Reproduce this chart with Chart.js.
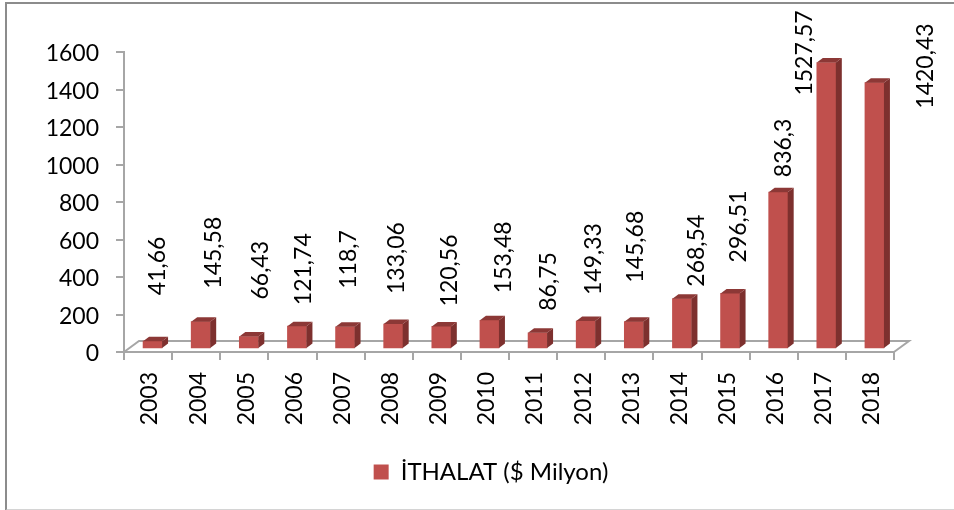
<!DOCTYPE html>
<html>
<head>
<meta charset="utf-8">
<script src="https://cdn.jsdelivr.net/npm/chart.js@4"></script>
<style>
  html, body { margin: 0; padding: 0; background: #fff; overflow: hidden; }
  #frame { position: absolute; left: 5px; top: 2px; width: 960px; height: 505px;
           border-left: 2px solid #8c8c8c; border-top: 2px solid #8c8c8c; border-bottom: 2px solid #d4d4d4; }
  #chart { position: absolute; left: 0; top: 0; }
</style>
</head>
<body>
<div id="frame"></div>
<canvas id="chart" width="954" height="510"></canvas>
<script>
const years = ['2003','2004','2005','2006','2007','2008','2009','2010','2011','2012','2013','2014','2015','2016','2017','2018'];
const ithalat = [41.66,145.58,66.43,121.74,118.7,133.06,120.56,153.48,86.75,149.33,145.68,268.54,296.51,836.3,1527.57,1420.43];

// hand-placed value labels, px away from each bar
const labelDx = [10,17,16,11,8,8,13,19,16,12,6,19,13,10,-17,56];
const labelDy = [-49,-36,-40,-24,-41,-33,-23,-30,-25,-29,-42,-15,-34,-18,30,23];

const FONT = 'Lato';
const TEXT_SIZE = 23;
const AXIS = '#a6a6a6';
const FRONT = '#c0504d';
const SIDE = '#7d302e';
const TOP = '#8c3836';
const DEPTH_X = 6, DEPTH_Y = 4.5;   // fake 3d depth of the bars
const SHIFT_X = 4.5, SHIFT_Y = -3;  // bars stand a bit into the floor

const fake3d = {
  id: 'fake3d',
  beforeDraw(chart) {
    // legend sits centred under the plot, not under the whole canvas
    chart.legend.left = 88;
    chart.legend.right = 894;
  },
  beforeDatasetsDraw(chart) {
    const { ctx, chartArea: a } = chart;
    // floor
    ctx.save();
    ctx.strokeStyle = AXIS;
    ctx.lineWidth = 2;
    ctx.beginPath();
    ctx.moveTo(a.left, a.bottom);
    ctx.lineTo(a.left + 15, a.bottom - 11);
    ctx.lineTo(a.right + 15, a.bottom - 11);
    ctx.lineTo(a.right, a.bottom);
    ctx.stroke();
    ctx.restore();
  },
  beforeDatasetDraw(chart) {
    chart.ctx.save();
    chart.ctx.translate(SHIFT_X, SHIFT_Y);
  },
  afterDatasetDraw(chart) {
    const { ctx } = chart;
    chart.getDatasetMeta(0).data.forEach(bar => {
      const l = bar.x - bar.width / 2, r = bar.x + bar.width / 2;
      ctx.fillStyle = SIDE;
      ctx.beginPath();
      ctx.moveTo(r, bar.y);
      ctx.lineTo(r + DEPTH_X, bar.y - DEPTH_Y);
      ctx.lineTo(r + DEPTH_X, bar.base - DEPTH_Y);
      ctx.lineTo(r, bar.base);
      ctx.closePath();
      ctx.fill();
      ctx.fillStyle = TOP;
      ctx.beginPath();
      ctx.moveTo(l, bar.y);
      ctx.lineTo(l + DEPTH_X, bar.y - DEPTH_Y);
      ctx.lineTo(r + DEPTH_X, bar.y - DEPTH_Y);
      ctx.lineTo(r, bar.y);
      ctx.closePath();
      ctx.fill();
    });
    ctx.restore();
  },
  afterDatasetsDraw(chart) {
    const { ctx } = chart;
    chart.getDatasetMeta(0).data.forEach((bar, i) => {
      ctx.save();
      ctx.translate(bar.x + labelDx[i], bar.y + labelDy[i]);
      ctx.rotate(-Math.PI / 2);
      ctx.font = TEXT_SIZE + 'px ' + FONT;
      ctx.fillStyle = '#000';
      ctx.textAlign = 'left';
      ctx.textBaseline = 'middle';
      ctx.fillText(String(ithalat[i]).replace('.', ','), 0, 0);
      ctx.restore();
    });
  }
};

new Chart(document.getElementById('chart'), {
  type: 'bar',
  data: {
    labels: years,
    datasets: [{
      label: 'İTHALAT ($ Milyon)',
      data: ithalat,
      backgroundColor: FRONT,
      barThickness: 19
    }]
  },
  options: {
    responsive: false,
    animation: false,
    layout: { padding: { left: 20, right: 60, top: 52, bottom: 16 } },
    plugins: {
      tooltip: { enabled: false },
      legend: {
        position: 'bottom',
        labels: { boxWidth: 15, boxHeight: 15, color: '#000', font: { family: FONT, size: 24 } }
      }
    },
    scales: {
      x: {
        afterFit(s) { s.height = 98; },
        grid: { drawOnChartArea: false, color: AXIS, lineWidth: 2, tickLength: 8 },
        border: { color: AXIS, width: 2 },
        ticks: { color: '#000', padding: 12, labelOffset: 2, minRotation: 90, maxRotation: 90, font: { family: FONT, size: TEXT_SIZE } }
      },
      y: {
        min: 0,
        max: 1600,
        afterFit(s) { s.width = 104; },
        grid: { drawOnChartArea: false, color: AXIS, lineWidth: 2, tickLength: 8 },
        border: { color: AXIS, width: 2 },
        ticks: { color: '#000', stepSize: 200, padding: 17, labelOffset: 2, font: { family: FONT, size: TEXT_SIZE }, callback: v => String(v) }
      }
    }
  },
  plugins: [fake3d]
});
</script>
</body>
</html>
